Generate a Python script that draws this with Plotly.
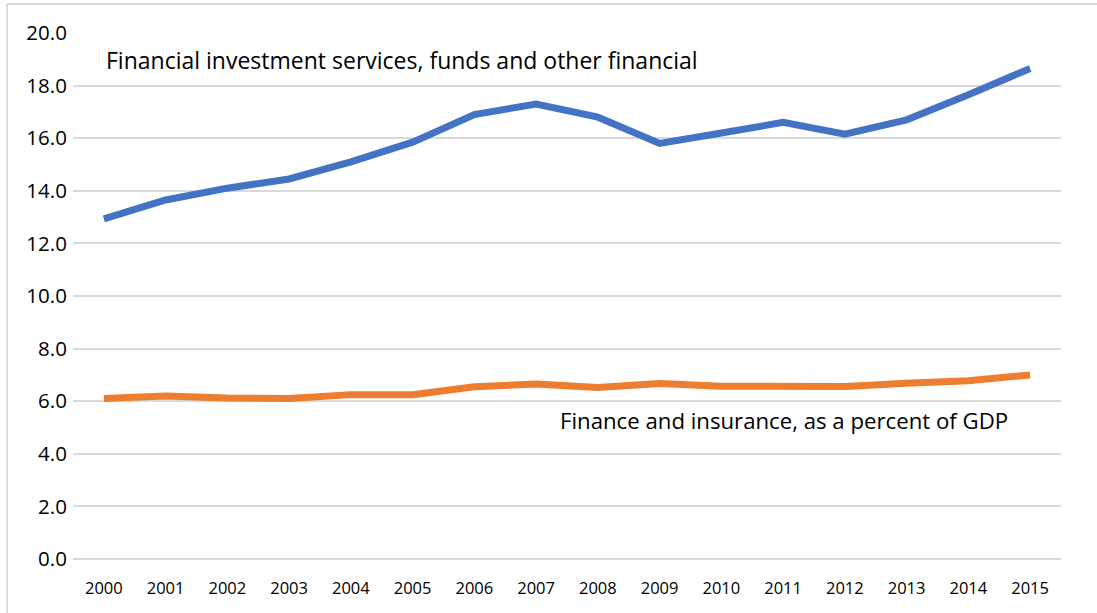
import plotly.graph_objects as go

years = [str(y) for y in range(2000, 2016)]
fin_invest = [12.93, 13.65, 14.1, 14.45, 15.1, 15.85, 16.9, 17.3, 16.8, 15.8,
              16.2, 16.6, 16.15, 16.7, 17.65, 18.65]
fin_ins = [6.1, 6.2, 6.12, 6.1, 6.25, 6.25, 6.55, 6.65, 6.52, 6.67,
           6.57, 6.57, 6.56, 6.68, 6.78, 7.0]
y_ticks = [0, 2, 4, 6, 8, 10, 12, 14, 16, 18, 20]

FONT = "Open Sans"
fig = go.Figure()
fig.add_trace(go.Scatter(x=years, y=fin_invest, mode="lines",
                         line=dict(color="#4472C4", width=7), showlegend=False))
fig.add_trace(go.Scatter(x=years, y=fin_ins, mode="lines",
                         line=dict(color="#ED7D31", width=7), showlegend=False))

fig.update_layout(
    width=1097, height=613,
    margin=dict(l=73, r=36, t=33, b=54),
    paper_bgcolor="white", plot_bgcolor="white",
    font=dict(family=FONT, color="#000000", size=16),
    xaxis=dict(type="category", range=[-0.5, 15.5], showgrid=False, showline=False,
               ticks="outside", ticklen=14, tickcolor="rgba(0,0,0,0)",
               tickfont=dict(family=FONT, size=16.5, color="#000")),
    yaxis=dict(range=[0, 20], tickvals=y_ticks, tickformat=".1f",
               showgrid=True, gridcolor="#D9D9D9", gridwidth=1.5,
               zeroline=True, zerolinecolor="#D9D9D9", zerolinewidth=1.5,
               showline=False, ticks="outside", ticklen=1, tickcolor="rgba(0,0,0,0)",
               tickfont=dict(family=FONT, size=20.5, color="#000")),
    annotations=[
        dict(x=0, y=18.97, xref="x", yref="y", xanchor="left", yanchor="middle",
             text="Financial investment services, funds and other financial",
             showarrow=False, font=dict(family=FONT, size=23, color="#000")),
        dict(x=7.35, y=5.28, xref="x", yref="y", xanchor="left", yanchor="middle",
             text="Finance and insurance, as a percent of GDP",
             showarrow=False, font=dict(family=FONT, size=22.2, color="#000")),
    ],
    shapes=[
        dict(type="line", xref="paper", yref="paper",
             x0=(7 - 73) / 988, x1=(1200 - 73) / 988,
             y0=(559 - 4) / 526, y1=(559 - 4) / 526,
             line=dict(color="#D0D0D0", width=1.5)),
        dict(type="line", xref="paper", yref="paper",
             x0=(7 - 73) / 988, x1=(7 - 73) / 988,
             y0=(559 - 4) / 526, y1=(559 - 700) / 526,
             line=dict(color="#D0D0D0", width=1.5)),
    ],
)

fig.write_html("out.html")
